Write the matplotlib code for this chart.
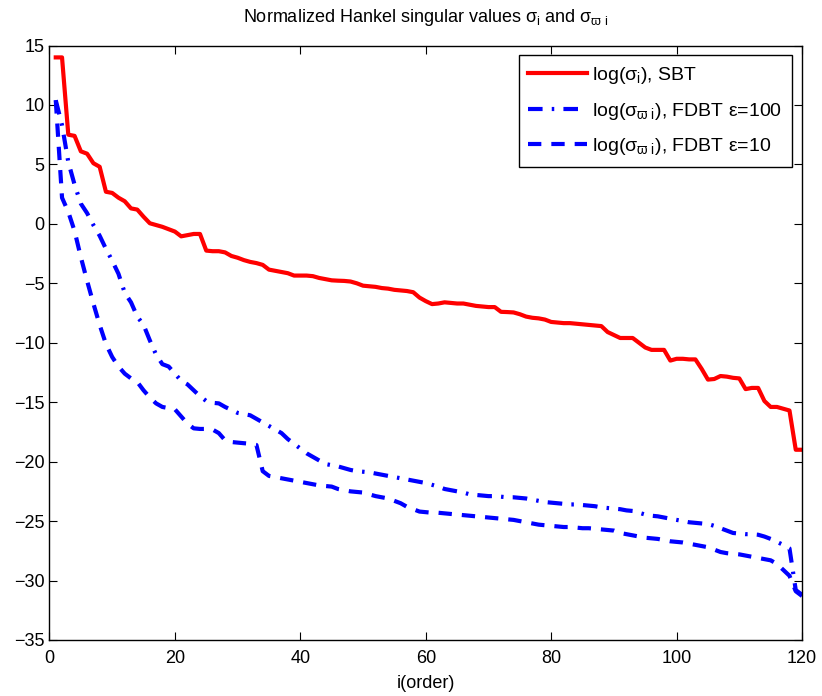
import numpy as np
import matplotlib
matplotlib.use("Agg")
import matplotlib.pyplot as plt

# font setup, MATLAB-like look
plt.rcParams['font.family'] = ['Liberation Sans', 'DejaVu Sans']
plt.rcParams['mathtext.fontset'] = 'custom'
plt.rcParams['mathtext.rm'] = 'Liberation Sans'
plt.rcParams['mathtext.it'] = 'Liberation Sans'
plt.rcParams['mathtext.fallback'] = 'stixsans'

# order index
order = np.arange(1, 121)

# log of normalized Hankel singular values, SBT
sbt = [14.0, 14.0, 7.5, 7.4, 6.1, 5.9, 5.1, 4.8, 2.7, 2.6,
       2.2, 1.9, 1.3, 1.2, 0.6, 0.05, -0.1, -0.25, -0.45, -0.65,
       -1.05, -0.95, -0.85, -0.85, -2.25, -2.3, -2.3, -2.4, -2.7, -2.85,
       -3.05, -3.2, -3.3, -3.45, -3.85, -3.95, -4.05, -4.15, -4.35, -4.35,
       -4.35, -4.4, -4.55, -4.65, -4.75, -4.78, -4.8, -4.85, -5.0, -5.2,
       -5.25, -5.3, -5.4, -5.45, -5.55, -5.6, -5.65, -5.75, -6.2, -6.5,
       -6.75, -6.7, -6.6, -6.65, -6.7, -6.7, -6.8, -6.9, -6.95, -7.0,
       -7.0, -7.4, -7.42, -7.45, -7.6, -7.8, -7.9, -7.95, -8.05, -8.25,
       -8.3, -8.35, -8.35, -8.4, -8.45, -8.5, -8.55, -8.6, -9.1, -9.35,
       -9.6, -9.6, -9.6, -10.0, -10.4, -10.6, -10.6, -10.6, -11.5, -11.35,
       -11.35, -11.4, -11.4, -12.2, -13.1, -13.05, -12.8, -12.85, -12.95, -13.0,
       -13.9, -13.8, -13.8, -14.9, -15.4, -15.4, -15.55, -15.7, -19.0, -19.0]

# FDBT eps=100
fdbt100 = [10.4, 8.3, 5.2, 3.3, 1.7, 0.9, -0.1, -1.0, -2.1, -3.1,
           -4.2, -5.8, -6.6, -7.8, -8.5, -9.8, -11.0, -11.8, -12.0, -12.6,
           -13.2, -13.5, -14.0, -14.5, -14.9, -15.05, -15.1, -15.4, -15.65, -15.9,
           -16.0, -16.1, -16.4, -16.7, -17.0, -17.3, -17.6, -18.1, -18.5, -18.9,
           -19.3, -19.6, -19.9, -20.2, -20.3, -20.4, -20.55, -20.7, -20.8, -20.85,
           -20.9, -21.0, -21.1, -21.2, -21.3, -21.4, -21.5, -21.6, -21.7, -21.8,
           -21.95, -22.1, -22.3, -22.4, -22.5, -22.6, -22.75, -22.8, -22.85, -22.9,
           -22.9, -22.95, -23.0, -23.0, -23.05, -23.1, -23.2, -23.3, -23.4, -23.45,
           -23.5, -23.55, -23.6, -23.6, -23.65, -23.7, -23.75, -23.85, -23.9, -23.95,
           -24.0, -24.1, -24.15, -24.3, -24.45, -24.55, -24.6, -24.7, -24.8, -24.9,
           -25.0, -25.1, -25.15, -25.2, -25.25, -25.4, -25.6, -25.8, -26.0, -26.05,
           -26.1, -26.1, -26.15, -26.3, -26.5, -26.75, -27.0, -27.3, -30.8, -31.2]

# FDBT eps=10
fdbt10 = [10.4, 2.2, 1.0, -0.6, -2.8, -4.8, -6.7, -8.5, -10.1, -11.2,
          -12.0, -12.6, -13.0, -13.3, -14.0, -14.6, -15.1, -15.4, -15.5, -15.6,
          -16.2, -16.8, -17.2, -17.25, -17.25, -17.3, -17.6, -18.2, -18.35, -18.4,
          -18.45, -18.5, -18.6, -20.8, -21.2, -21.3, -21.4, -21.5, -21.6, -21.7,
          -21.8, -21.9, -22.0, -22.05, -22.1, -22.3, -22.4, -22.5, -22.55, -22.6,
          -22.75, -22.9, -23.0, -23.1, -23.3, -23.5, -23.8, -24.0, -24.2, -24.25,
          -24.3, -24.3, -24.35, -24.4, -24.45, -24.5, -24.55, -24.6, -24.65, -24.7,
          -24.75, -24.8, -24.85, -24.9, -25.0, -25.1, -25.2, -25.3, -25.35, -25.4,
          -25.45, -25.5, -25.5, -25.55, -25.6, -25.6, -25.65, -25.7, -25.75, -25.8,
          -26.0, -26.1, -26.2, -26.3, -26.4, -26.45, -26.5, -26.6, -26.7, -26.75,
          -26.8, -26.9, -27.0, -27.1, -27.2, -27.4, -27.6, -27.7, -27.75, -27.8,
          -27.9, -28.0, -28.1, -28.2, -28.3, -28.6, -29.1, -29.6, -30.9, -31.3]

fig = plt.figure(figsize=(8.22, 6.96), dpi=100)
ax = fig.add_axes([0.0602, 0.0805, 0.9155, 0.8541])

ax.plot(order, sbt, color='red', linewidth=3, label=r'log($\sigma_{\mathrm{i}}$), SBT')
ax.plot(order, fdbt100, color='blue', linewidth=3, linestyle=(0, (3.5, 2.2, 0.6, 2.2)),
        label=r'log($\sigma_{\varpi\ \mathrm{i}}$), FDBT ε=100')
ax.plot(order, fdbt10, color='blue', linewidth=3, linestyle=(0, (3.2, 2.4)),
        label=r'log($\sigma_{\varpi\ \mathrm{i}}$), FDBT ε=10')

ax.set_xlim(0, 120)
ax.set_ylim(-35, 15)
ax.set_xticks(np.arange(0, 121, 20))
ax.set_yticks(np.arange(-35, 16, 5))
ax.tick_params(direction='in', top=True, right=True, labelsize=13, length=6, width=0.8)
ax.tick_params(axis='x', pad=7)
for s in ax.spines.values():
    s.set_linewidth(1.0)

ax.set_title(r'Normalized Hankel singular values $\sigma_{\mathrm{i}}$ and $\sigma_{\varpi\ \mathrm{i}}$',
             fontsize=13, pad=17)
ax.set_xlabel('i(order)', fontsize=13, labelpad=6)

leg = ax.legend(loc='upper right', fontsize=14, fancybox=False, edgecolor='black',
                framealpha=1, handlelength=3.0, handletextpad=0.3, borderaxespad=0.5,
                labelspacing=0.75, borderpad=0.5)
leg.get_frame().set_linewidth(1.0)

fig.savefig('out.png', dpi=100)
